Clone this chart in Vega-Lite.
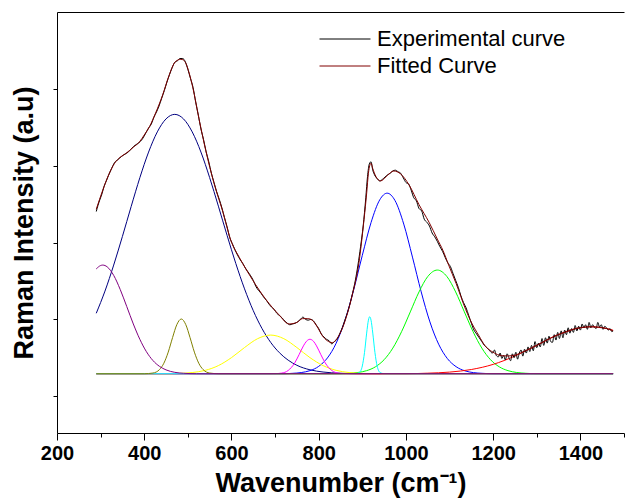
{
  "$schema": "https://vega.github.io/schema/vega-lite/v6.json",
  "width": 567,
  "height": 421,
  "autosize": {"type": "none"},
  "padding": {"left": 57, "top": 12, "right": 2, "bottom": 68},
  "config": {
    "view": {"stroke": null},
    "font": "Liberation Sans"
  },
  "datasets": {
    "comps": [
      {"c":"C1","wn":290,"I":0.79},{"c":"C1","wn":310,"I":1.08},{"c":"C1","wn":330,"I":1.42},{"c":"C1","wn":350,"I":1.795},{"c":"C1","wn":370,"I":2.185},{"c":"C1","wn":390,"I":2.563},{"c":"C1","wn":410,"I":2.897},{"c":"C1","wn":430,"I":3.161},{"c":"C1","wn":450,"I":3.331},{"c":"C1","wn":470,"I":3.39},{"c":"C1","wn":490,"I":3.331},{"c":"C1","wn":510,"I":3.161},{"c":"C1","wn":530,"I":2.897},{"c":"C1","wn":550,"I":2.563},{"c":"C1","wn":570,"I":2.19},{"c":"C1","wn":590,"I":1.807},{"c":"C1","wn":610,"I":1.44},{"c":"C1","wn":630,"I":1.109},{"c":"C1","wn":650,"I":0.824},{"c":"C1","wn":670,"I":0.591},{"c":"C1","wn":690,"I":0.409},{"c":"C1","wn":710,"I":0.274},{"c":"C1","wn":730,"I":0.177},{"c":"C1","wn":750,"I":0.11},{"c":"C1","wn":780,"I":0.051},{"c":"C1","wn":810,"I":0.022},{"c":"C1","wn":850,"I":0.006},{"c":"C1","wn":900,"I":0},{"c":"C1","wn":1475,"I":0},
      {"c":"C2","wn":290,"I":0},{"c":"C2","wn":720,"I":0},{"c":"C2","wn":740,"I":0.005},{"c":"C2","wn":760,"I":0.015},{"c":"C2","wn":780,"I":0.04},{"c":"C2","wn":800,"I":0.096},{"c":"C2","wn":820,"I":0.206},{"c":"C2","wn":840,"I":0.398},{"c":"C2","wn":860,"I":0.694},{"c":"C2","wn":880,"I":1.091},{"c":"C2","wn":900,"I":1.547},{"c":"C2","wn":920,"I":1.975},{"c":"C2","wn":940,"I":2.273},{"c":"C2","wn":957,"I":2.36},{"c":"C2","wn":975,"I":2.263},{"c":"C2","wn":995,"I":1.956},{"c":"C2","wn":1015,"I":1.524},{"c":"C2","wn":1035,"I":1.07},{"c":"C2","wn":1055,"I":0.677},{"c":"C2","wn":1075,"I":0.386},{"c":"C2","wn":1095,"I":0.198},{"c":"C2","wn":1115,"I":0.092},{"c":"C2","wn":1135,"I":0.038},{"c":"C2","wn":1155,"I":0.014},{"c":"C2","wn":1175,"I":0.005},{"c":"C2","wn":1200,"I":0},{"c":"C2","wn":1475,"I":0},
      {"c":"C3","wn":290,"I":0},{"c":"C3","wn":850,"I":0},{"c":"C3","wn":870,"I":0.006},{"c":"C3","wn":890,"I":0.016},{"c":"C3","wn":910,"I":0.04},{"c":"C3","wn":930,"I":0.09},{"c":"C3","wn":950,"I":0.183},{"c":"C3","wn":970,"I":0.335},{"c":"C3","wn":990,"I":0.549},{"c":"C3","wn":1010,"I":0.808},{"c":"C3","wn":1030,"I":1.069},{"c":"C3","wn":1050,"I":1.27},{"c":"C3","wn":1072,"I":1.355},{"c":"C3","wn":1094,"I":1.27},{"c":"C3","wn":1114,"I":1.069},{"c":"C3","wn":1134,"I":0.808},{"c":"C3","wn":1154,"I":0.549},{"c":"C3","wn":1174,"I":0.335},{"c":"C3","wn":1194,"I":0.183},{"c":"C3","wn":1214,"I":0.09},{"c":"C3","wn":1234,"I":0.04},{"c":"C3","wn":1254,"I":0.016},{"c":"C3","wn":1274,"I":0.006},{"c":"C3","wn":1300,"I":0},{"c":"C3","wn":1475,"I":0},
      {"c":"C4","wn":290,"I":0},{"c":"C4","wn":1000,"I":0},{"c":"C4","wn":1050,"I":0.007},{"c":"C4","wn":1100,"I":0.021},{"c":"C4","wn":1150,"I":0.055},{"c":"C4","wn":1200,"I":0.122},{"c":"C4","wn":1250,"I":0.231},{"c":"C4","wn":1300,"I":0.373},{"c":"C4","wn":1350,"I":0.514},{"c":"C4","wn":1400,"I":0.603},{"c":"C4","wn":1425,"I":0.615},{"c":"C4","wn":1450,"I":0.603},{"c":"C4","wn":1475,"I":0.568},
      {"c":"C5","wn":290,"I":0},{"c":"C5","wn":460,"I":0},{"c":"C5","wn":480,"I":0.004},{"c":"C5","wn":510,"I":0.015},{"c":"C5","wn":540,"I":0.044},{"c":"C5","wn":570,"I":0.106},{"c":"C5","wn":600,"I":0.21},{"c":"C5","wn":630,"I":0.342},{"c":"C5","wn":660,"I":0.458},{"c":"C5","wn":690,"I":0.505},{"c":"C5","wn":720,"I":0.458},{"c":"C5","wn":750,"I":0.342},{"c":"C5","wn":780,"I":0.21},{"c":"C5","wn":810,"I":0.106},{"c":"C5","wn":840,"I":0.044},{"c":"C5","wn":870,"I":0.015},{"c":"C5","wn":900,"I":0.004},{"c":"C5","wn":930,"I":0},{"c":"C5","wn":1475,"I":0},
      {"c":"C6","wn":290,"I":0},{"c":"C6","wn":690,"I":0},{"c":"C6","wn":700,"I":0.001},{"c":"C6","wn":715,"I":0.008},{"c":"C6","wn":730,"I":0.042},{"c":"C6","wn":745,"I":0.141},{"c":"C6","wn":755,"I":0.249},{"c":"C6","wn":765,"I":0.364},{"c":"C6","wn":772,"I":0.424},{"c":"C6","wn":780,"I":0.45},{"c":"C6","wn":788,"I":0.424},{"c":"C6","wn":795,"I":0.364},{"c":"C6","wn":805,"I":0.249},{"c":"C6","wn":815,"I":0.141},{"c":"C6","wn":830,"I":0.042},{"c":"C6","wn":845,"I":0.008},{"c":"C6","wn":860,"I":0.001},{"c":"C6","wn":870,"I":0},{"c":"C6","wn":1475,"I":0},
      {"c":"C7","wn":290,"I":0},{"c":"C7","wn":880,"I":0},{"c":"C7","wn":885,"I":0.001},{"c":"C7","wn":893,"I":0.014},{"c":"C7","wn":900,"I":0.101},{"c":"C7","wn":905,"I":0.275},{"c":"C7","wn":910,"I":0.531},{"c":"C7","wn":914,"I":0.7},{"c":"C7","wn":917,"I":0.745},{"c":"C7","wn":920,"I":0.7},{"c":"C7","wn":924,"I":0.531},{"c":"C7","wn":929,"I":0.275},{"c":"C7","wn":934,"I":0.101},{"c":"C7","wn":941,"I":0.014},{"c":"C7","wn":949,"I":0.001},{"c":"C7","wn":955,"I":0},{"c":"C7","wn":1475,"I":0},
      {"c":"C8","wn":290,"I":0},{"c":"C8","wn":400,"I":0},{"c":"C8","wn":420,"I":0.009},{"c":"C8","wn":435,"I":0.054},{"c":"C8","wn":445,"I":0.137},{"c":"C8","wn":455,"I":0.282},{"c":"C8","wn":465,"I":0.473},{"c":"C8","wn":475,"I":0.645},{"c":"C8","wn":485,"I":0.715},{"c":"C8","wn":495,"I":0.645},{"c":"C8","wn":505,"I":0.473},{"c":"C8","wn":515,"I":0.282},{"c":"C8","wn":525,"I":0.137},{"c":"C8","wn":535,"I":0.054},{"c":"C8","wn":550,"I":0.009},{"c":"C8","wn":570,"I":0},{"c":"C8","wn":1475,"I":0},
      {"c":"C9","wn":290,"I":1.37},{"c":"C9","wn":300,"I":1.414},{"c":"C9","wn":305,"I":1.42},{"c":"C9","wn":315,"I":1.397},{"c":"C9","wn":330,"I":1.285},{"c":"C9","wn":345,"I":1.1},{"c":"C9","wn":360,"I":0.877},{"c":"C9","wn":375,"I":0.65},{"c":"C9","wn":390,"I":0.449},{"c":"C9","wn":405,"I":0.288},{"c":"C9","wn":420,"I":0.172},{"c":"C9","wn":435,"I":0.096},{"c":"C9","wn":450,"I":0.05},{"c":"C9","wn":470,"I":0.018},{"c":"C9","wn":490,"I":0.006},{"c":"C9","wn":520,"I":0},{"c":"C9","wn":1475,"I":0}
    ],
    "spec": [
      {"s":"Experimental curve","wn":290,"I":2.12},{"s":"Experimental curve","wn":294,"I":2.2},{"s":"Experimental curve","wn":298,"I":2.27},{"s":"Experimental curve","wn":303,"I":2.35},{"s":"Experimental curve","wn":308,"I":2.45},{"s":"Experimental curve","wn":313,"I":2.52},{"s":"Experimental curve","wn":318,"I":2.59},{"s":"Experimental curve","wn":325,"I":2.68},{"s":"Experimental curve","wn":332,"I":2.76},{"s":"Experimental curve","wn":340,"I":2.8},{"s":"Experimental curve","wn":348,"I":2.84},{"s":"Experimental curve","wn":356,"I":2.87},{"s":"Experimental curve","wn":364,"I":2.9},{"s":"Experimental curve","wn":372,"I":2.95},{"s":"Experimental curve","wn":380,"I":2.99},{"s":"Experimental curve","wn":388,"I":3.02},{"s":"Experimental curve","wn":396,"I":3.07},{"s":"Experimental curve","wn":404,"I":3.15},{"s":"Experimental curve","wn":410,"I":3.21},{"s":"Experimental curve","wn":416,"I":3.26},{"s":"Experimental curve","wn":422,"I":3.35},{"s":"Experimental curve","wn":428,"I":3.42},{"s":"Experimental curve","wn":434,"I":3.5},{"s":"Experimental curve","wn":440,"I":3.6},{"s":"Experimental curve","wn":446,"I":3.7},{"s":"Experimental curve","wn":452,"I":3.81},{"s":"Experimental curve","wn":458,"I":3.91},{"s":"Experimental curve","wn":464,"I":4.0},{"s":"Experimental curve","wn":470,"I":4.07},{"s":"Experimental curve","wn":476,"I":4.09},{"s":"Experimental curve","wn":482,"I":4.12},{"s":"Experimental curve","wn":488,"I":4.12},{"s":"Experimental curve","wn":494,"I":4.08},{"s":"Experimental curve","wn":500,"I":3.98},{"s":"Experimental curve","wn":506,"I":3.86},{"s":"Experimental curve","wn":512,"I":3.74},{"s":"Experimental curve","wn":518,"I":3.55},{"s":"Experimental curve","wn":524,"I":3.38},{"s":"Experimental curve","wn":530,"I":3.2},{"s":"Experimental curve","wn":536,"I":3.06},{"s":"Experimental curve","wn":542,"I":2.9},{"s":"Experimental curve","wn":548,"I":2.77},{"s":"Experimental curve","wn":554,"I":2.62},{"s":"Experimental curve","wn":560,"I":2.5},{"s":"Experimental curve","wn":566,"I":2.38},{"s":"Experimental curve","wn":572,"I":2.28},{"s":"Experimental curve","wn":578,"I":2.17},{"s":"Experimental curve","wn":584,"I":2.04},{"s":"Experimental curve","wn":590,"I":1.92},{"s":"Experimental curve","wn":596,"I":1.78},{"s":"Experimental curve","wn":602,"I":1.7},{"s":"Experimental curve","wn":608,"I":1.62},{"s":"Experimental curve","wn":614,"I":1.55},{"s":"Experimental curve","wn":620,"I":1.49},{"s":"Experimental curve","wn":626,"I":1.44},{"s":"Experimental curve","wn":632,"I":1.38},{"s":"Experimental curve","wn":638,"I":1.33},{"s":"Experimental curve","wn":644,"I":1.28},{"s":"Experimental curve","wn":650,"I":1.22},{"s":"Experimental curve","wn":656,"I":1.14},{"s":"Experimental curve","wn":662,"I":1.09},{"s":"Experimental curve","wn":668,"I":1.05},{"s":"Experimental curve","wn":674,"I":1.0},{"s":"Experimental curve","wn":680,"I":0.96},{"s":"Experimental curve","wn":686,"I":0.91},{"s":"Experimental curve","wn":692,"I":0.87},{"s":"Experimental curve","wn":698,"I":0.84},{"s":"Experimental curve","wn":704,"I":0.79},{"s":"Experimental curve","wn":710,"I":0.76},{"s":"Experimental curve","wn":716,"I":0.73},{"s":"Experimental curve","wn":722,"I":0.69},{"s":"Experimental curve","wn":728,"I":0.66},{"s":"Experimental curve","wn":734,"I":0.64},{"s":"Experimental curve","wn":740,"I":0.65},{"s":"Experimental curve","wn":746,"I":0.66},{"s":"Experimental curve","wn":752,"I":0.68},{"s":"Experimental curve","wn":758,"I":0.71},{"s":"Experimental curve","wn":764,"I":0.74},{"s":"Experimental curve","wn":770,"I":0.71},{"s":"Experimental curve","wn":776,"I":0.7},{"s":"Experimental curve","wn":782,"I":0.71},{"s":"Experimental curve","wn":788,"I":0.69},{"s":"Experimental curve","wn":794,"I":0.64},{"s":"Experimental curve","wn":800,"I":0.59},{"s":"Experimental curve","wn":806,"I":0.52},{"s":"Experimental curve","wn":812,"I":0.48},{"s":"Experimental curve","wn":818,"I":0.45},{"s":"Experimental curve","wn":824,"I":0.43},{"s":"Experimental curve","wn":830,"I":0.39},{"s":"Experimental curve","wn":836,"I":0.42},{"s":"Experimental curve","wn":842,"I":0.45},{"s":"Experimental curve","wn":848,"I":0.52},{"s":"Experimental curve","wn":854,"I":0.6},{"s":"Experimental curve","wn":860,"I":0.7},{"s":"Experimental curve","wn":866,"I":0.8},{"s":"Experimental curve","wn":872,"I":0.92},{"s":"Experimental curve","wn":878,"I":1.06},{"s":"Experimental curve","wn":884,"I":1.22},{"s":"Experimental curve","wn":890,"I":1.42},{"s":"Experimental curve","wn":896,"I":1.66},{"s":"Experimental curve","wn":902,"I":1.93},{"s":"Experimental curve","wn":908,"I":2.3},{"s":"Experimental curve","wn":912,"I":2.58},{"s":"Experimental curve","wn":916,"I":2.74},{"s":"Experimental curve","wn":920,"I":2.77},{"s":"Experimental curve","wn":924,"I":2.66},{"s":"Experimental curve","wn":928,"I":2.6},{"s":"Experimental curve","wn":934,"I":2.55},{"s":"Experimental curve","wn":940,"I":2.52},{"s":"Experimental curve","wn":946,"I":2.54},{"s":"Experimental curve","wn":952,"I":2.57},{"s":"Experimental curve","wn":958,"I":2.6},{"s":"Experimental curve","wn":964,"I":2.62},{"s":"Experimental curve","wn":970,"I":2.65},{"s":"Experimental curve","wn":976,"I":2.66},{"s":"Experimental curve","wn":982,"I":2.64},{"s":"Experimental curve","wn":988,"I":2.62},{"s":"Experimental curve","wn":994,"I":2.56},{"s":"Experimental curve","wn":1000,"I":2.5},{"s":"Experimental curve","wn":1006,"I":2.48},{"s":"Experimental curve","wn":1012,"I":2.4},{"s":"Experimental curve","wn":1018,"I":2.3},{"s":"Experimental curve","wn":1024,"I":2.26},{"s":"Experimental curve","wn":1030,"I":2.16},{"s":"Experimental curve","wn":1036,"I":2.13},{"s":"Experimental curve","wn":1042,"I":2.02},{"s":"Experimental curve","wn":1048,"I":1.98},{"s":"Experimental curve","wn":1054,"I":1.93},{"s":"Experimental curve","wn":1060,"I":1.84},{"s":"Experimental curve","wn":1066,"I":1.79},{"s":"Experimental curve","wn":1072,"I":1.73},{"s":"Experimental curve","wn":1078,"I":1.66},{"s":"Experimental curve","wn":1084,"I":1.6},{"s":"Experimental curve","wn":1090,"I":1.52},{"s":"Experimental curve","wn":1096,"I":1.45},{"s":"Experimental curve","wn":1102,"I":1.4},{"s":"Experimental curve","wn":1108,"I":1.31},{"s":"Experimental curve","wn":1114,"I":1.22},{"s":"Experimental curve","wn":1120,"I":1.13},{"s":"Experimental curve","wn":1126,"I":1.02},{"s":"Experimental curve","wn":1132,"I":0.93},{"s":"Experimental curve","wn":1138,"I":0.86},{"s":"Experimental curve","wn":1144,"I":0.76},{"s":"Experimental curve","wn":1150,"I":0.66},{"s":"Experimental curve","wn":1156,"I":0.57},{"s":"Experimental curve","wn":1162,"I":0.52},{"s":"Experimental curve","wn":1168,"I":0.47},{"s":"Experimental curve","wn":1174,"I":0.42},{"s":"Experimental curve","wn":1180,"I":0.37},{"s":"Experimental curve","wn":1186,"I":0.34},{"s":"Experimental curve","wn":1192,"I":0.3},{"s":"Experimental curve","wn":1198,"I":0.27},{"s":"Experimental curve","wn":1203,"I":0.31},{"s":"Experimental curve","wn":1207,"I":0.24},{"s":"Experimental curve","wn":1212,"I":0.22},{"s":"Experimental curve","wn":1216,"I":0.27},{"s":"Experimental curve","wn":1220,"I":0.2},{"s":"Experimental curve","wn":1224,"I":0.24},{"s":"Experimental curve","wn":1228,"I":0.18},{"s":"Experimental curve","wn":1232,"I":0.26},{"s":"Experimental curve","wn":1236,"I":0.21},{"s":"Experimental curve","wn":1240,"I":0.17},{"s":"Experimental curve","wn":1244,"I":0.26},{"s":"Experimental curve","wn":1248,"I":0.21},{"s":"Experimental curve","wn":1252,"I":0.28},{"s":"Experimental curve","wn":1256,"I":0.19},{"s":"Experimental curve","wn":1260,"I":0.27},{"s":"Experimental curve","wn":1264,"I":0.31},{"s":"Experimental curve","wn":1268,"I":0.23},{"s":"Experimental curve","wn":1272,"I":0.32},{"s":"Experimental curve","wn":1276,"I":0.27},{"s":"Experimental curve","wn":1280,"I":0.35},{"s":"Experimental curve","wn":1284,"I":0.29},{"s":"Experimental curve","wn":1288,"I":0.37},{"s":"Experimental curve","wn":1292,"I":0.3},{"s":"Experimental curve","wn":1296,"I":0.42},{"s":"Experimental curve","wn":1300,"I":0.34},{"s":"Experimental curve","wn":1304,"I":0.4},{"s":"Experimental curve","wn":1308,"I":0.35},{"s":"Experimental curve","wn":1312,"I":0.46},{"s":"Experimental curve","wn":1316,"I":0.37},{"s":"Experimental curve","wn":1320,"I":0.47},{"s":"Experimental curve","wn":1324,"I":0.4},{"s":"Experimental curve","wn":1328,"I":0.49},{"s":"Experimental curve","wn":1332,"I":0.42},{"s":"Experimental curve","wn":1336,"I":0.41},{"s":"Experimental curve","wn":1340,"I":0.51},{"s":"Experimental curve","wn":1344,"I":0.44},{"s":"Experimental curve","wn":1348,"I":0.54},{"s":"Experimental curve","wn":1352,"I":0.46},{"s":"Experimental curve","wn":1356,"I":0.56},{"s":"Experimental curve","wn":1360,"I":0.47},{"s":"Experimental curve","wn":1364,"I":0.57},{"s":"Experimental curve","wn":1368,"I":0.51},{"s":"Experimental curve","wn":1372,"I":0.6},{"s":"Experimental curve","wn":1376,"I":0.53},{"s":"Experimental curve","wn":1380,"I":0.59},{"s":"Experimental curve","wn":1384,"I":0.54},{"s":"Experimental curve","wn":1388,"I":0.63},{"s":"Experimental curve","wn":1392,"I":0.56},{"s":"Experimental curve","wn":1396,"I":0.62},{"s":"Experimental curve","wn":1400,"I":0.57},{"s":"Experimental curve","wn":1404,"I":0.65},{"s":"Experimental curve","wn":1408,"I":0.6},{"s":"Experimental curve","wn":1412,"I":0.64},{"s":"Experimental curve","wn":1416,"I":0.58},{"s":"Experimental curve","wn":1420,"I":0.67},{"s":"Experimental curve","wn":1424,"I":0.6},{"s":"Experimental curve","wn":1428,"I":0.64},{"s":"Experimental curve","wn":1432,"I":0.61},{"s":"Experimental curve","wn":1436,"I":0.59},{"s":"Experimental curve","wn":1440,"I":0.67},{"s":"Experimental curve","wn":1444,"I":0.61},{"s":"Experimental curve","wn":1448,"I":0.64},{"s":"Experimental curve","wn":1452,"I":0.58},{"s":"Experimental curve","wn":1456,"I":0.62},{"s":"Experimental curve","wn":1460,"I":0.6},{"s":"Experimental curve","wn":1464,"I":0.57},{"s":"Experimental curve","wn":1468,"I":0.59},{"s":"Experimental curve","wn":1472,"I":0.55},{"s":"Experimental curve","wn":1475,"I":0.56},
      {"s":"Fitted Curve","wn":290,"I":2.15},{"s":"Fitted Curve","wn":305,"I":2.4},{"s":"Fitted Curve","wn":320,"I":2.62},{"s":"Fitted Curve","wn":332,"I":2.75},{"s":"Fitted Curve","wn":345,"I":2.83},{"s":"Fitted Curve","wn":358,"I":2.88},{"s":"Fitted Curve","wn":375,"I":2.96},{"s":"Fitted Curve","wn":389,"I":3.03},{"s":"Fitted Curve","wn":400,"I":3.12},{"s":"Fitted Curve","wn":412,"I":3.23},{"s":"Fitted Curve","wn":427,"I":3.42},{"s":"Fitted Curve","wn":442,"I":3.64},{"s":"Fitted Curve","wn":457,"I":3.9},{"s":"Fitted Curve","wn":469,"I":4.06},{"s":"Fitted Curve","wn":477,"I":4.1},{"s":"Fitted Curve","wn":484,"I":4.11},{"s":"Fitted Curve","wn":490,"I":4.1},{"s":"Fitted Curve","wn":496,"I":4.05},{"s":"Fitted Curve","wn":503,"I":3.93},{"s":"Fitted Curve","wn":511,"I":3.75},{"s":"Fitted Curve","wn":526,"I":3.32},{"s":"Fitted Curve","wn":541,"I":2.92},{"s":"Fitted Curve","wn":560,"I":2.49},{"s":"Fitted Curve","wn":579,"I":2.14},{"s":"Fitted Curve","wn":600,"I":1.72},{"s":"Fitted Curve","wn":618,"I":1.52},{"s":"Fitted Curve","wn":648,"I":1.23},{"s":"Fitted Curve","wn":679,"I":0.97},{"s":"Fitted Curve","wn":709,"I":0.77},{"s":"Fitted Curve","wn":732,"I":0.65},{"s":"Fitted Curve","wn":750,"I":0.67},{"s":"Fitted Curve","wn":763,"I":0.72},{"s":"Fitted Curve","wn":775,"I":0.72},{"s":"Fitted Curve","wn":785,"I":0.7},{"s":"Fitted Curve","wn":797,"I":0.61},{"s":"Fitted Curve","wn":808,"I":0.5},{"s":"Fitted Curve","wn":820,"I":0.43},{"s":"Fitted Curve","wn":831,"I":0.405},{"s":"Fitted Curve","wn":842,"I":0.46},{"s":"Fitted Curve","wn":854,"I":0.59},{"s":"Fitted Curve","wn":866,"I":0.79},{"s":"Fitted Curve","wn":877,"I":1.03},{"s":"Fitted Curve","wn":892,"I":1.44},{"s":"Fitted Curve","wn":904,"I":2.02},{"s":"Fitted Curve","wn":910,"I":2.36},{"s":"Fitted Curve","wn":914,"I":2.62},{"s":"Fitted Curve","wn":917,"I":2.72},{"s":"Fitted Curve","wn":920,"I":2.75},{"s":"Fitted Curve","wn":924,"I":2.68},{"s":"Fitted Curve","wn":931,"I":2.58},{"s":"Fitted Curve","wn":942,"I":2.52},{"s":"Fitted Curve","wn":957,"I":2.59},{"s":"Fitted Curve","wn":972,"I":2.65},{"s":"Fitted Curve","wn":988,"I":2.61},{"s":"Fitted Curve","wn":1007,"I":2.47},{"s":"Fitted Curve","wn":1030,"I":2.21},{"s":"Fitted Curve","wn":1053,"I":1.98},{"s":"Fitted Curve","wn":1072,"I":1.76},{"s":"Fitted Curve","wn":1085,"I":1.61},{"s":"Fitted Curve","wn":1098,"I":1.42},{"s":"Fitted Curve","wn":1115,"I":1.18},{"s":"Fitted Curve","wn":1137,"I":0.84},{"s":"Fitted Curve","wn":1152,"I":0.65},{"s":"Fitted Curve","wn":1167,"I":0.5},{"s":"Fitted Curve","wn":1182,"I":0.36},{"s":"Fitted Curve","wn":1197,"I":0.29},{"s":"Fitted Curve","wn":1210,"I":0.25},{"s":"Fitted Curve","wn":1220,"I":0.235},{"s":"Fitted Curve","wn":1235,"I":0.232},{"s":"Fitted Curve","wn":1251,"I":0.245},{"s":"Fitted Curve","wn":1274,"I":0.3},{"s":"Fitted Curve","wn":1304,"I":0.38},{"s":"Fitted Curve","wn":1320,"I":0.43},{"s":"Fitted Curve","wn":1345,"I":0.5},{"s":"Fitted Curve","wn":1365,"I":0.54},{"s":"Fitted Curve","wn":1390,"I":0.59},{"s":"Fitted Curve","wn":1411,"I":0.607},{"s":"Fitted Curve","wn":1425,"I":0.612},{"s":"Fitted Curve","wn":1442,"I":0.605},{"s":"Fitted Curve","wn":1460,"I":0.59},{"s":"Fitted Curve","wn":1475,"I":0.56}
    ]
  },
  "encoding": {
    "x": {
      "field": "wn", "type": "quantitative",
      "scale": {"domain": [200, 1500], "nice": false, "zero": false},
      "axis": {
        "orient": "bottom",
        "title": "Wavenumber (cm⁻¹)",
        "values": [200, 300, 400, 500, 600, 700, 800, 900, 1000, 1100, 1200, 1300, 1400, 1500],
        "format": "d",
        "labelExpr": "datum.value % 200 === 0 && datum.value < 1500 ? datum.label : ''",
        "tickSize": {"condition": {"test": "datum.value % 200 === 0", "value": 7}, "value": 4},
        "grid": false,
        "domainColor": "black", "tickColor": "black",
        "labelFont": "Liberation Sans", "labelFontSize": 20, "labelFontWeight": "bold", "labelColor": "black",
        "labelPadding": 3, "labelFlush": false, "labelOverlap": false,
        "titleFont": "Liberation Sans", "titleFontSize": 27, "titleFontWeight": "bold", "titleColor": "black",
        "titlePadding": 7
      }
    },
    "y": {
      "field": "I", "type": "quantitative",
      "scale": {"domain": [-0.775, 4.728], "nice": false, "zero": false},
      "axis": {
        "title": "Raman Intensity (a.u)",
        "values": [-0.285, 0.715, 1.715, 2.715, 3.715],
        "labels": false,
        "tickSize": 4,
        "grid": false,
        "domainColor": "black", "tickColor": "black",
        "titleFont": "Liberation Sans", "titleFontSize": 27, "titleFontWeight": "bold", "titleColor": "black",
        "titlePadding": 14
      }
    }
  },
  "layer": [
    {
      "data": {"name": "comps"},
      "mark": {"type": "line", "strokeWidth": 1, "interpolate": "monotone"},
      "encoding": {
        "x": {
          "field": "wn", "type": "quantitative",
          "scale": {"domain": [200, 1500], "nice": false, "zero": false},
          "axis": {"orient": "top", "title": null, "labels": false, "ticks": false, "grid": false, "domainColor": "black"}
        },
        "color": {
          "field": "c", "type": "nominal",
          "scale": {
            "domain": ["C1", "C2", "C3", "C4", "C5", "C6", "C7", "C8", "C9"],
            "range": ["#000080", "#0000FF", "#00FF00", "#FF0000", "#FFFF00", "#FF00FF", "#00FFFF", "#808000", "#800080"]
          },
          "legend": null
        }
      }
    },
    {
      "data": {"name": "spec"},
      "mark": {"type": "line", "strokeWidth": 1, "interpolate": "monotone"},
      "encoding": {
        "color": {
          "field": "s", "type": "nominal",
          "scale": {"domain": ["Experimental curve", "Fitted Curve"], "range": ["#000000", "#800000"]},
          "legend": {
            "orient": "none", "legendX": 277, "legendY": 16,
            "title": null, "padding": 0,
            "symbolType": "M-5,0L5,0", "symbolSize": 104, "symbolStrokeWidth": 1,
            "labelFont": "Liberation Sans", "labelFontSize": 22, "labelColor": "black", "labelLimit": 400,
            "labelOffset": 21, "rowPadding": 5
          }
        }
      }
    }
  ],
  "resolve": {"scale": {"color": "independent"}, "axis": {"x": "independent"}}
}
